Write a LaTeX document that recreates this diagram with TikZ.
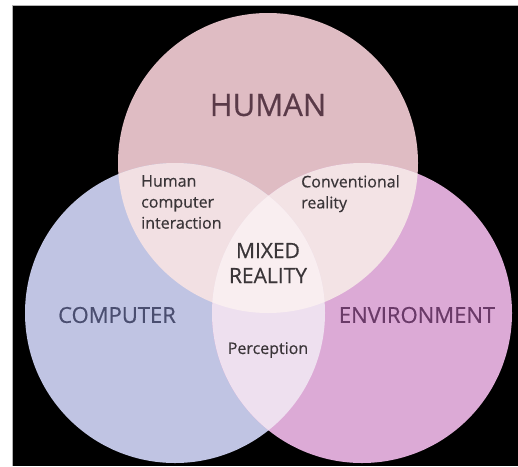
\documentclass[tikz,border=0pt]{standalone}
\usepackage{fontspec}
\setmainfont{Open Sans}
\newfontfamily\vennfont[FakeBold=0.5]{Open Sans}
\definecolor{humanc}{HTML}{DFBCC3}
\definecolor{compc}{HTML}{C0C4E3}
\definecolor{envc}{HTML}{DCAAD6}
\definecolor{hcc}{HTML}{F2E0E3}
\definecolor{hec}{HTML}{F3E3E5}
\definecolor{cec}{HTML}{EEE0EF}
\definecolor{midc}{HTML}{F9EEF0}
\definecolor{humant}{HTML}{5A3A48}
\definecolor{compt}{HTML}{4A4E70}
\definecolor{envt}{HTML}{6A3A68}
\definecolor{smallt}{HTML}{3A3538}
\tikzset{
  big/.style={font=\vennfont\fontsize{22}{24}\selectfont, inner sep=0pt},
  small/.style={font=\vennfont\fontsize{16}{21}\selectfont, text=smallt, inner sep=0pt, align=left},
}
\begin{document}
\begin{tikzpicture}[x=1pt,y=-1pt]
\useasboundingbox (0,0) rectangle (518,466);
\fill[white] (0,0) rectangle (518,466);
\fill[black] (12,5) rectangle (518,466);
\draw[gray!60, line width=0.8pt] (12,5) -- (518,5);
\draw[gray!60, line width=0.8pt] (12,5) -- (12,466);
% circles
\fill[humanc] (268,163) circle (150);
\fill[compc] (175,313) circle (150);
\fill[envc] (362,313) circle (150);
% pairwise overlaps
\begin{scope}
  \clip (268,163) circle (150);
  \fill[hcc] (175,313) circle (150);
  \fill[hec] (362,313) circle (150);
\end{scope}
\begin{scope}
  \clip (175,313) circle (150);
  \fill[cec] (362,313) circle (150);
\end{scope}
\begin{scope}
  \clip (268,163) circle (150);
  \clip (175,313) circle (150);
  \fill[midc] (362,313) circle (150);
\end{scope}
% labels
\node[big, font=\vennfont\fontsize{31}{33}\selectfont, text=humant] (human) at (268,105) {HUMAN};
\node[big, text=compt] (computer) at (117,315) {COMPUTER};
\node[big, text=envt] (environment) at (417,315) {ENVIRONMENT};
\node[small, font=\vennfont\fontsize{21}{25}\selectfont, align=center] (mixed) at (268,263) {MIXED\\REALITY};
\node[small, anchor=north west] (hci) at (141,175) {Human\\computer\\interaction};
\node[small, anchor=north west] (conv) at (301,175) {Conventional\\reality};
\node[small] (perc) at (268,350) {Perception};
\end{tikzpicture}
\end{document}
